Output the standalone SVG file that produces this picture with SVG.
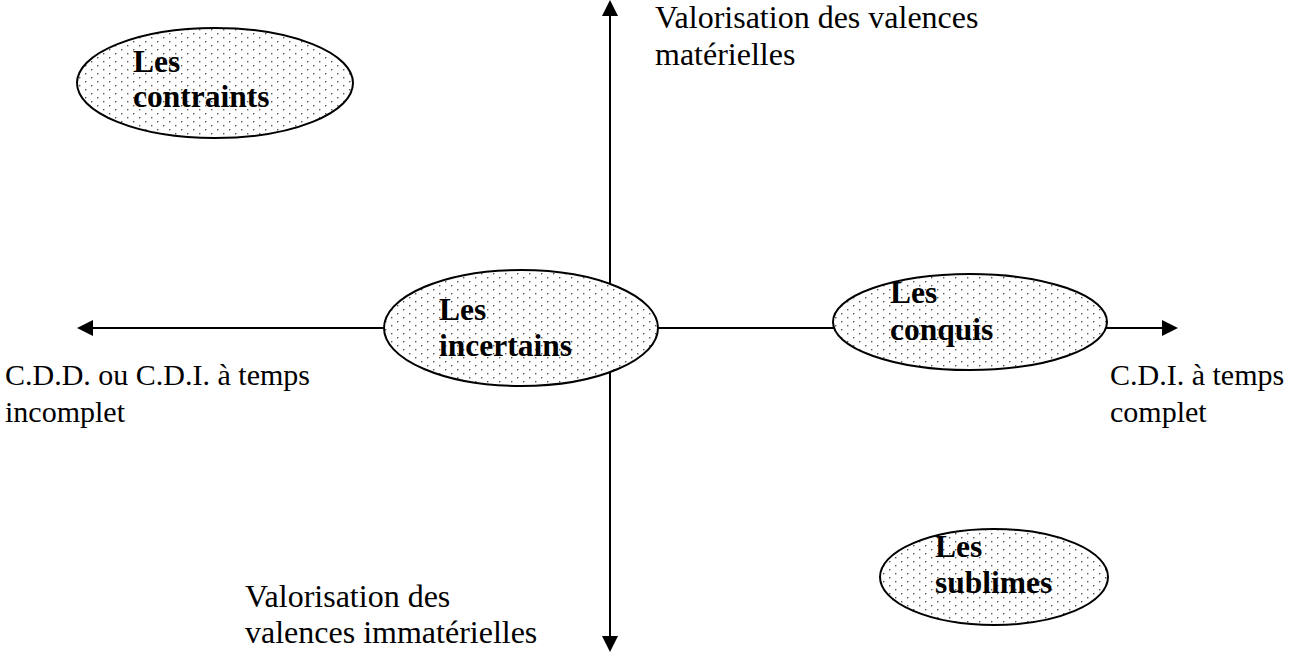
<svg xmlns="http://www.w3.org/2000/svg" width="1294" height="652" viewBox="0 0 1294 652">
<style>
.axis{stroke:#000;stroke-width:2;fill:none}
.node{stroke:#000;stroke-width:2}
.lbl{font-family:"Liberation Serif","Times New Roman",serif;font-size:32px;fill:#000}
.side{font-family:"Liberation Serif","Times New Roman",serif;font-size:30px;fill:#000}
.bold{font-family:"Liberation Serif","Times New Roman",serif;font-size:31.5px;font-weight:bold;fill:#000}
</style>
<defs>
<pattern id="dots" patternUnits="userSpaceOnUse" width="12" height="8">
<rect width="12" height="8" fill="#fff"/>
<rect x="1" y="1" width="1.4" height="1.4" fill="#555"/>
<rect x="7" y="5" width="1.4" height="1.4" fill="#555"/>
</pattern>
</defs>
<rect width="1294" height="652" fill="#fff"/>
<g id="connectors">
<line class="axis" x1="610" y1="640" x2="610" y2="14"/>
<polygon points="610,0 602,16 618,16" fill="#000"/>
<polygon points="610,652 602,636 618,636" fill="#000"/>
<line class="axis" x1="92" y1="328" x2="1164" y2="328"/>
<polygon points="77,328 93,320 93,336" fill="#000"/>
<polygon points="1178,328 1162,320 1162,336" fill="#000"/>
</g>
<g id="axis-labels">
<text class="lbl" x="655" y="28">Valorisation des valences</text>
<text class="lbl" x="655" y="65">matérielles</text>
<text class="side" x="5" y="385">C.D.D. ou C.D.I. à temps</text>
<text class="side" x="5" y="422">incomplet</text>
<text class="side" x="1110" y="385">C.D.I. à temps</text>
<text class="side" x="1110" y="422">complet</text>
<text class="lbl" x="245" y="607">Valorisation des</text>
<text class="lbl" x="245" y="643">valences immatérielles</text>
</g>
<g id="contraints">
<ellipse class="node" cx="215" cy="83" rx="138" ry="55" fill="url(#dots)"/>
<text class="bold" x="133" y="72">Les</text>
<text class="bold" x="133" y="107">contraints</text>
</g>
<g id="incertains">
<ellipse class="node" cx="521" cy="328" rx="137" ry="58" fill="url(#dots)"/>
<text class="bold" x="439" y="320">Les</text>
<text class="bold" x="439" y="356">incertains</text>
</g>
<g id="conquis">
<ellipse class="node" cx="970" cy="322" rx="137" ry="48" fill="url(#dots)"/>
<text class="bold" x="890" y="303">Les</text>
<text class="bold" x="890" y="340">conquis</text>
</g>
<g id="sublimes">
<ellipse class="node" cx="994" cy="577" rx="114" ry="48" fill="url(#dots)"/>
<text class="bold" x="935" y="557">Les</text>
<text class="bold" x="935" y="593">sublimes</text>
</g>
</svg>
